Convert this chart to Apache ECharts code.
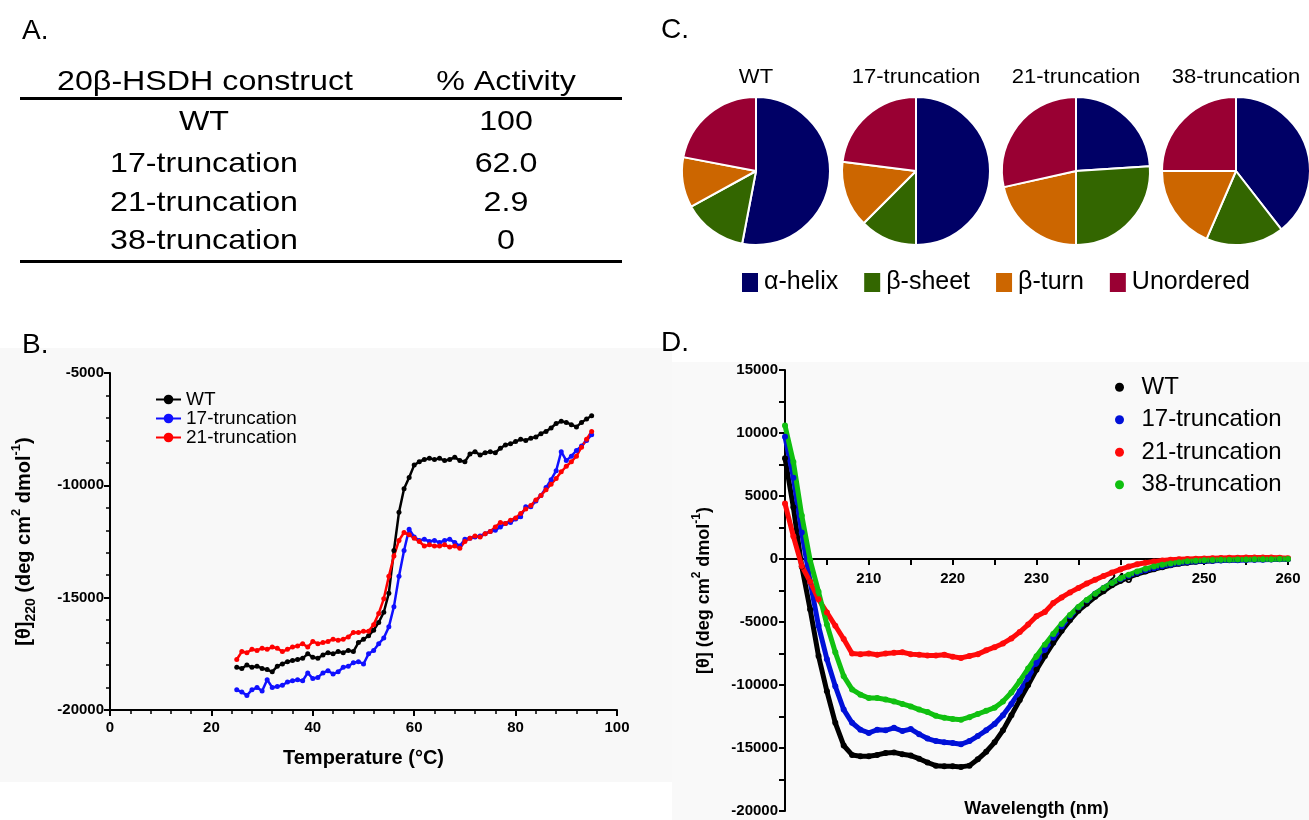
<!DOCTYPE html>
<html>
<head>
<meta charset="utf-8">
<title>20β-HSDH truncation constructs</title>
<script src="https://cdn.jsdelivr.net/npm/echarts@6/dist/echarts.min.js"></script>
<style>
  html, body {margin:0; padding:0; background:#fff;}
  #main {width:1309px; height:820px;}
</style>
</head>
<body>
<div id="main"></div>
<script>
// ---- A. activity table
var constructs = ['WT', '17-truncation', '21-truncation', '38-truncation'];
var activity = ['100', '62.0', '2.9', '0'];

// ---- C. secondary structure (%), order: helix, sheet, turn, unordered
var structNames = ['α-helix', 'β-sheet', 'β-turn', 'Unordered'];
var structColors = ['#000066', '#336600', '#cc6600', '#990033'];
var pieWT  = [53, 14, 11, 22];
var pie17  = [50, 12.5, 14.5, 23];
var pie21  = [24, 26, 21.5, 28.5];
var pie38  = [39.5, 17, 18.5, 25];

// ---- B. thermal melt at 220 nm
var tempB = [25,26,27,28,29,30,31,32,33,34,35,36,37,38,39,40,41,42,43,44,45,46,47,48,49,
             50,51,52,53,54,55,56,57,58,59,60,61,62,63,64,65,66,67,68,69,70,71,72,73,74,
             75,76,77,78,79,80,81,82,83,84,85,86,87,88,89,90,91,92,93,94,95];
var meltWT = [-18100,-18150,-18000,-18100,-18050,-18150,-18200,-18300,-18050,-17950,-17850,-17800,-17750,-17700,-17500,
              -17650,-17700,-17550,-17450,-17500,-17400,-17450,-17350,-17400,-17000,-16850,-16700,-16450,-16100,-15650,
              -14800,-12900,-11200,-10150,-9650,-9100,-8950,-8850,-8800,-8850,-8800,-8900,-8850,-8750,-8900,
              -8950,-8600,-8500,-8650,-8550,-8500,-8550,-8350,-8200,-8150,-8050,-7950,-8000,-7900,-7850,
              -7700,-7600,-7450,-7250,-7150,-7200,-7300,-7400,-7200,-7050,-6900];
var melt17 = [-19100,-19200,-19350,-19100,-19000,-19150,-18650,-19000,-18950,-18900,-18750,-18700,-18650,-18700,-18350,
              -18600,-18550,-18350,-18250,-18400,-18300,-18100,-18050,-17900,-17850,-17950,-17500,-17350,-17050,-16800,
              -16300,-15400,-14050,-12900,-11950,-12300,-12450,-12400,-12500,-12450,-12550,-12450,-12400,-12550,-12700,
              -12400,-12350,-12300,-12250,-12150,-12050,-12000,-11850,-11700,-11650,-11500,-11400,-10950,-10950,-10700,
              -10450,-10100,-9750,-9350,-8500,-8900,-8700,-8450,-8250,-8000,-7750];
var melt21 = [-17750,-17400,-17450,-17300,-17350,-17250,-17300,-17200,-17250,-17400,-17300,-17200,-17150,-17050,-17200,
              -16950,-17050,-17000,-16950,-16850,-16900,-16850,-16750,-16550,-16550,-16500,-16500,-16200,-15700,-15050,
              -14050,-13150,-12450,-12100,-12200,-12350,-12500,-12700,-12650,-12700,-12700,-12650,-12750,-12700,-12800,
              -12500,-12350,-12250,-12300,-12150,-12050,-11850,-11650,-11700,-11550,-11450,-11250,-11050,-10900,-10650,
              -10450,-10200,-9950,-9700,-9400,-9150,-8950,-8700,-8300,-7950,-7600];

// ---- D. far-UV CD spectra
var waveD = [200,201,202,203,204,205,206,207,208,209,210,211,212,213,214,215,216,217,218,219,
             220,221,222,223,224,225,226,227,228,229,230,231,232,233,234,235,236,237,238,239,
             240,241,242,243,244,245,246,247,248,249,250,251,252,253,254,255,256,257,258,259,260];
var cdWT = [8000,4100,-600,-4000,-7700,-10500,-13000,-14800,-15550,-15650,-15650,-15550,-15400,-15350,-15500,-15600,-15850,-16150,-16400,-16450,
            -16450,-16500,-16400,-15900,-15300,-14550,-13600,-12400,-11200,-10000,-8780,-7700,-6650,-5700,-4850,-4100,-3550,-3000,-2550,-2080,
            -1740,-1450,-1200,-1000,-820,-650,-500,-380,-290,-220,-170,-130,-100,-80,-60,-40,-30,-20,-10,0,0];
var cd17 = [9700,6450,2100,-1800,-5300,-7950,-10100,-11950,-13000,-13550,-13800,-13550,-13600,-13400,-13650,-13500,-13900,-14250,-14450,-14550,
            -14600,-14700,-14450,-14050,-13600,-13100,-12400,-11500,-10500,-9400,-8250,-7200,-6250,-5350,-4550,-3850,-3300,-2750,-2300,-1900,
            -1600,-1330,-1100,-900,-730,-580,-450,-340,-260,-200,-160,-140,-120,-100,-90,-80,-60,-50,-40,-20,-10];
var cd21 = [4400,1800,-550,-1800,-3200,-4250,-5300,-6350,-7500,-7550,-7500,-7600,-7500,-7450,-7400,-7550,-7600,-7650,-7650,-7600,
            -7750,-7850,-7700,-7550,-7250,-7000,-6700,-6300,-5800,-5200,-4550,-4200,-3500,-3050,-2650,-2300,-1950,-1650,-1350,-1080,
            -830,-600,-420,-300,-200,-120,-50,-20,0,20,40,60,80,90,100,110,110,120,110,100,60];
var cd38 = [10600,7700,3450,-100,-2600,-5200,-7400,-9300,-10350,-10770,-11030,-11030,-11150,-11300,-11500,-11700,-11950,-12150,-12450,-12600,
            -12700,-12750,-12550,-12300,-12050,-11800,-11300,-10600,-9700,-8700,-7720,-6800,-5950,-5150,-4450,-3800,-3250,-2750,-2300,-1900,
            -1550,-1250,-1000,-780,-600,-460,-350,-260,-180,-130,-100,-80,-60,-50,-40,-30,-20,-20,-10,0,0];

var FONT = '"Liberation Sans", Arial, sans-serif';

function pairs(xs, ys) {
  return xs.map(function (x, i) { return [x, ys[i]]; });
}

function txt(x, y, s, size, align, sx) {
  return {
    type: 'text', x: x, y: y, scaleX: sx || 1,
    style: {
      text: s, fontSize: size, fontFamily: FONT, fill: '#000',
      textAlign: align || 'center', textVerticalAlign: 'middle'
    }
  };
}

function plain(v) { return String(v); }

var chart = echarts.init(document.getElementById('main'), null, {renderer: 'canvas'});

// graphic: backgrounds, panel letters, table A, pie titles
var graphics = [
  {type: 'rect', z: -10, shape: {x: 0, y: 348, width: 672, height: 434}, style: {fill: '#f8f8f8'}},
  {type: 'rect', z: -10, shape: {x: 672, y: 362, width: 637, height: 458}, style: {fill: '#f9f9f9'}},
  txt(22, 31, 'A.', 28, 'left'),
  txt(661, 30, 'C.', 28, 'left'),
  txt(22, 345, 'B.', 28, 'left'),
  txt(661, 343, 'D.', 28, 'left'),
  txt(205, 82, '20β-HSDH construct', 28, 'center', 1.15),
  txt(506, 82, '% Activity', 28, 'center', 1.15),
  {type: 'line', shape: {x1: 20, y1: 98.5, x2: 622, y2: 98.5}, style: {stroke: '#000', lineWidth: 3}},
  {type: 'line', shape: {x1: 20, y1: 261.5, x2: 622, y2: 261.5}, style: {stroke: '#000', lineWidth: 3}}
];
var rowY = [122, 164, 203, 241];
constructs.forEach(function (c, i) {
  graphics.push(txt(204, rowY[i], c, 28, 'center', 1.15));
  graphics.push(txt(506, rowY[i], activity[i], 28, 'center', 1.15));
});

var pieCx = [756, 916, 1076, 1236];
var pieVals = [pieWT, pie17, pie21, pie38];
constructs.forEach(function (c, i) {
  graphics.push(txt(pieCx[i], 77, c, 21, 'center', 1.05));
});

var pieSeries = pieVals.map(function (vals, i) {
  return {
    type: 'pie',
    name: constructs[i],
    center: [pieCx[i], 171],
    radius: 74,
    startAngle: 90,
    clockwise: true,
    label: {show: false},
    labelLine: {show: false},
    emphasis: {disabled: true},
    itemStyle: {borderColor: '#fff', borderWidth: 2},
    data: vals.map(function (v, k) {
      return {name: structNames[k], value: v, itemStyle: {color: structColors[k]}};
    })
  };
});

var axisBold = {color: '#000', fontSize: 15, fontWeight: 'bold', fontFamily: FONT};
var blackLine = {show: true, lineStyle: {color: '#000', width: 2}};

var colB = ['#000000', '#1010ff', '#ff0000'];
var meltSets = [meltWT, melt17, melt21];
var meltSeries = meltSets.map(function (ys, i) {
  return {
    type: 'line', name: constructs[i], xAxisIndex: 0, yAxisIndex: 0,
    data: pairs(tempB, ys),
    symbol: 'circle', symbolSize: 5, showSymbol: true,
    lineStyle: {width: 2.5, color: colB[i]},
    itemStyle: {color: colB[i]},
    emphasis: {disabled: true}
  };
});

var colD = ['#000000', '#0010d8', '#ff0a0a', '#10c010'];
var cdSets = [cdWT, cd17, cd21, cd38];
var cdSeries = cdSets.map(function (ys, i) {
  return {
    type: 'line', name: 'D:' + constructs[i], xAxisIndex: 1, yAxisIndex: 1,
    data: pairs(waveD, ys),
    symbol: 'circle', symbolSize: 6, showSymbol: true,
    lineStyle: {width: 5, color: colD[i]},
    itemStyle: {color: colD[i]},
    emphasis: {disabled: true}
  };
});

// D grid: top 370, height 441, y from -20000 to 15000 -> zero line sits 252 px above the bottom
var gridD = {left: 785, top: 370, width: 503, height: 441};
var zeroShiftD = gridD.height * 20000 / 35000;

var option = {
  animation: false,
  textStyle: {fontFamily: FONT},
  graphic: {elements: graphics},
  grid: [
    {left: 110, top: 373, width: 507, height: 337, outerBoundsMode: 'none', containLabel: false},
    Object.assign({outerBoundsMode: 'none', containLabel: false}, gridD)
  ],
  xAxis: [
    {
      type: 'value', gridIndex: 0, min: 0, max: 100, interval: 20,
      axisLine: {show: true, onZero: false, lineStyle: {color: '#000', width: 2}},
      axisTick: {show: true, length: 6, lineStyle: {color: '#000', width: 2}},
      minorTick: {show: true, splitNumber: 5, length: 4, lineStyle: {color: '#000', width: 1.5}},
      splitLine: {show: false},
      axisLabel: Object.assign({margin: 10, formatter: plain}, axisBold),
      name: 'Temperature (°C)', nameLocation: 'middle', nameGap: 38,
      nameTextStyle: {color: '#000', fontSize: 20, fontWeight: 'bold', fontFamily: FONT}
    },
    {
      type: 'value', gridIndex: 1, min: 200, max: 260, interval: 10,
      position: 'bottom', offset: -zeroShiftD,
      axisLine: {show: true, onZero: false, lineStyle: {color: '#000', width: 2}},
      axisTick: {show: true, length: 6, lineStyle: {color: '#000', width: 2}},
      minorTick: {show: true, splitNumber: 2, length: 6, lineStyle: {color: '#000', width: 2}},
      splitLine: {show: false},
      axisLabel: Object.assign({margin: 12, formatter: function (v) { return v === 200 ? '' : String(v); }}, axisBold),
      name: 'Wavelength (nm)', nameLocation: 'middle', nameGap: 241,
      nameTextStyle: {color: '#000', fontSize: 18, fontWeight: 'bold', fontFamily: FONT}
    }
  ],
  yAxis: [
    {
      type: 'value', gridIndex: 0, min: -20000, max: -5000, interval: 5000,
      axisLine: blackLine,
      axisTick: {show: true, length: 6, lineStyle: {color: '#000', width: 2}},
      minorTick: {show: true, splitNumber: 5, length: 4, lineStyle: {color: '#000', width: 1.5}},
      splitLine: {show: false},
      axisLabel: Object.assign({margin: 6, formatter: plain}, axisBold),
      name: '{a|[θ]}{s|220}{a| (deg cm}{p|2}{a| dmol}{p|-1}{a|)}',
      nameLocation: 'middle', nameGap: 72,
      nameTextStyle: {
        color: '#000', fontFamily: FONT,
        rich: {
          a: {fontSize: 20, fontWeight: 'bold', lineHeight: 28, color: '#000', fontFamily: FONT},
          s: {fontSize: 14, fontWeight: 'bold', verticalAlign: 'bottom', lineHeight: 28, color: '#000', fontFamily: FONT},
          p: {fontSize: 13, fontWeight: 'bold', verticalAlign: 'top', lineHeight: 28, color: '#000', fontFamily: FONT}
        }
      }
    },
    {
      type: 'value', gridIndex: 1, min: -20000, max: 15000, interval: 5000,
      axisLine: blackLine,
      axisTick: {show: true, length: 6, lineStyle: {color: '#000', width: 2}},
      minorTick: {show: true, splitNumber: 2, length: 6, lineStyle: {color: '#000', width: 2}},
      splitLine: {show: false},
      axisLabel: Object.assign({margin: 7, formatter: plain}, axisBold),
      name: '{a|[θ] (deg cm}{p|2}{a| dmol}{p|-1}{a|)}',
      nameLocation: 'middle', nameGap: 68,
      nameTextStyle: {
        color: '#000', fontFamily: FONT,
        rich: {
          a: {fontSize: 18, fontWeight: 'bold', lineHeight: 26, color: '#000', fontFamily: FONT},
          p: {fontSize: 12, fontWeight: 'bold', verticalAlign: 'top', lineHeight: 26, color: '#000', fontFamily: FONT}
        }
      }
    }
  ],
  legend: [
    {
      orient: 'vertical', left: 155, top: 390, padding: 0, itemGap: 0,
      itemWidth: 25, itemHeight: 12, selectedMode: false,
      data: constructs.slice(0, 3),
      textStyle: {color: '#000', fontSize: 19, lineHeight: 19, fontFamily: FONT}
    },
    {
      orient: 'vertical', left: 1115, top: 371, padding: 0, itemGap: 0,
      icon: 'circle', itemWidth: 34, itemHeight: 9, selectedMode: false,
      data: constructs.map(function (c) { return 'D:' + c; }),
      formatter: function (n) { return n.slice(2); },
      textStyle: {color: '#000', fontSize: 24, lineHeight: 32.5, fontFamily: FONT}
    },
    {
      orient: 'horizontal', left: 740, top: 270, padding: 0, itemGap: 24,
      icon: 'rect', itemWidth: 18, itemHeight: 21, selectedMode: false,
      data: structNames,
      textStyle: {color: '#000', fontSize: 25, fontFamily: FONT}
    }
  ],
  series: meltSeries.concat(cdSeries).concat(pieSeries)
};

chart.setOption(option);
</script>
</body>
</html>
